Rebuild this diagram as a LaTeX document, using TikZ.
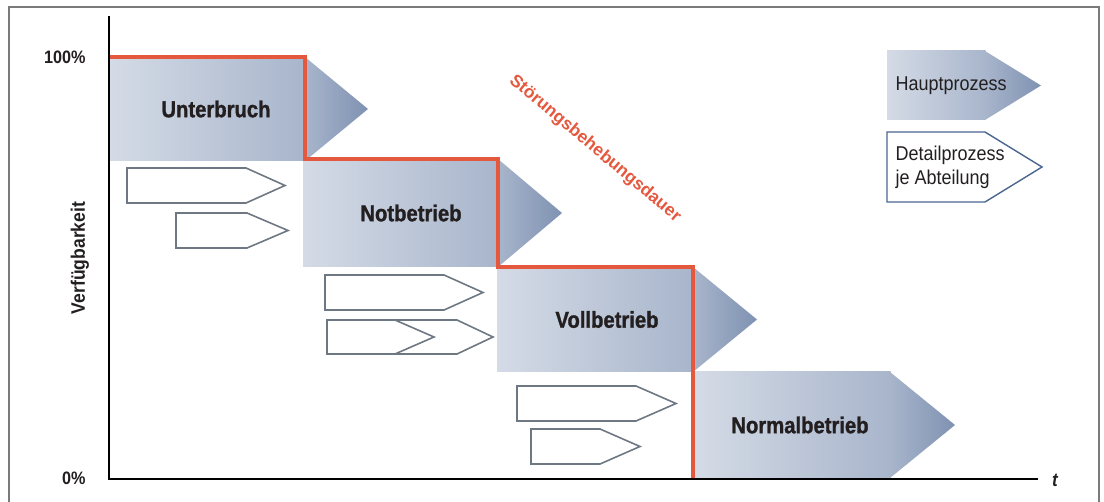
\documentclass[tikz,border=0pt]{standalone}
\usepackage{fontspec}
\setmainfont{Liberation Sans}
\newfontfamily\condfont[FakeStretch=0.9]{Liberation Sans}
\newfontfamily\heavyfont[FakeStretch=0.88,BoldFeatures={FakeBold=1.2}]{Liberation Sans}
\usepackage{tikz}
\usetikzlibrary{calc}
\definecolor{hell}{HTML}{D4DBE6}
\definecolor{mitte}{HTML}{A8B5CB}
\definecolor{dunkel}{HTML}{7F92B2}
\definecolor{stoerrot}{HTML}{E4583E}
\definecolor{umriss}{HTML}{6E7882}
\definecolor{legblau}{HTML}{4A6590}
\definecolor{schrift}{HTML}{231F20}
\definecolor{rahmen}{HTML}{7A7A7A}

\begin{document}
\begin{tikzpicture}[x=1pt,y=-1pt,>=stealth,
  phase/.style={font=\heavyfont\bfseries\fontsize{23}{25}\selectfont,text=schrift},
  detail/.style={draw=umriss,line width=1.6pt,line join=miter},
  achse/.style={black,line width=2.6pt},
  skala/.style={font=\condfont\bfseries\fontsize{18}{20}\selectfont,text=schrift},
  legende/.style={font=\condfont\fontsize{20}{24}\selectfont,text=schrift}]
  \useasboundingbox (0,0) rectangle (1104,502);
  \draw[rahmen,line width=1.5pt] (9,502) -- (9,7) -- (1099,7) -- (1099,502);
  % Hauptprozesse
  \foreach \xa/\ya/\xb/\yb/\xt/\xl/\name/\txt in {109/57/305/161/368/216/unterbruch/Unterbruch,
      303/159/498/267/562/411/notbetrieb/Notbetrieb,
      497/267/693/372/757/607/vollbetrieb/Vollbetrieb,
      695/372/890/478/955/800/normalbetrieb/Normalbetrieb}{
    \shade[left color=hell,right color=mitte] (\xa,\ya) rectangle (\xb+0.5,\yb);
    \shade[left color=mitte,right color=dunkel] (\xb,\ya) -- (\xt,{(\ya+\yb)/2}) -- (\xb,\yb) -- cycle;
    \node[phase] (\name) at (\xl,{(\ya+\yb)/2}) {\txt};
  }
  % Detailprozesse
  \foreach \xa/\ya/\yb/\xh/\xt in {127/168/203/246/285, 176/213/248/247/288,
      325/275/310/444/483, 327/320/354/395/434, 327/320/354/457/493,
      517/386/421/636/676, 531/429/464/600/640}
    \draw[detail] (\xa,\ya) -- (\xh,\ya) -- (\xt,{(\ya+\yb)/2}) -- (\xh,\yb) -- (\xa,\yb) -- cycle;
  % Stoerungsbehebungsdauer
  \draw[stoerrot,line width=3.5pt,line join=miter] (109,57) -| (305,159) -| (498,267) -| (693,478);
  \node[stoerrot,font=\bfseries\fontsize{17.5}{19}\selectfont,rotate=-40] (dauer) at (595,149) {Störungsbehebungsdauer};
  % Achsen
  \draw[achse] (109,16) -- (109,479) -- (1038,479);
  \node[skala,anchor=east] (hundert) at (89,57) {100\%};
  \node[skala,anchor=east] (null) at (89,478) {0\%};
  \node[skala,font=\condfont\bfseries\fontsize{19.5}{21}\selectfont,rotate=90] (verf) at (80,258) {Verfügbarkeit};
  \node[skala,font=\condfont\bfseries\itshape\fontsize{19}{21}\selectfont] (zeit) at (1055,480) {t};
  % Legende
  \shade[left color=hell,right color=mitte] (887,51) rectangle (985.5,120);
  \shade[left color=mitte,right color=dunkel] (985,51) -- (1041,85.5) -- (985,120) -- cycle;
  \node[legende,anchor=west] (haupt) at (892,86) {Hauptprozess};
  \draw[legblau,line width=1.4pt] (887,132) -- (985,132) -- (1042,167) -- (985,202) -- (887,202) -- cycle;
  \node[legende,anchor=west,align=left] (detail) at (892,167) {Detailprozess\\je Abteilung};
\end{tikzpicture}
\end{document}
